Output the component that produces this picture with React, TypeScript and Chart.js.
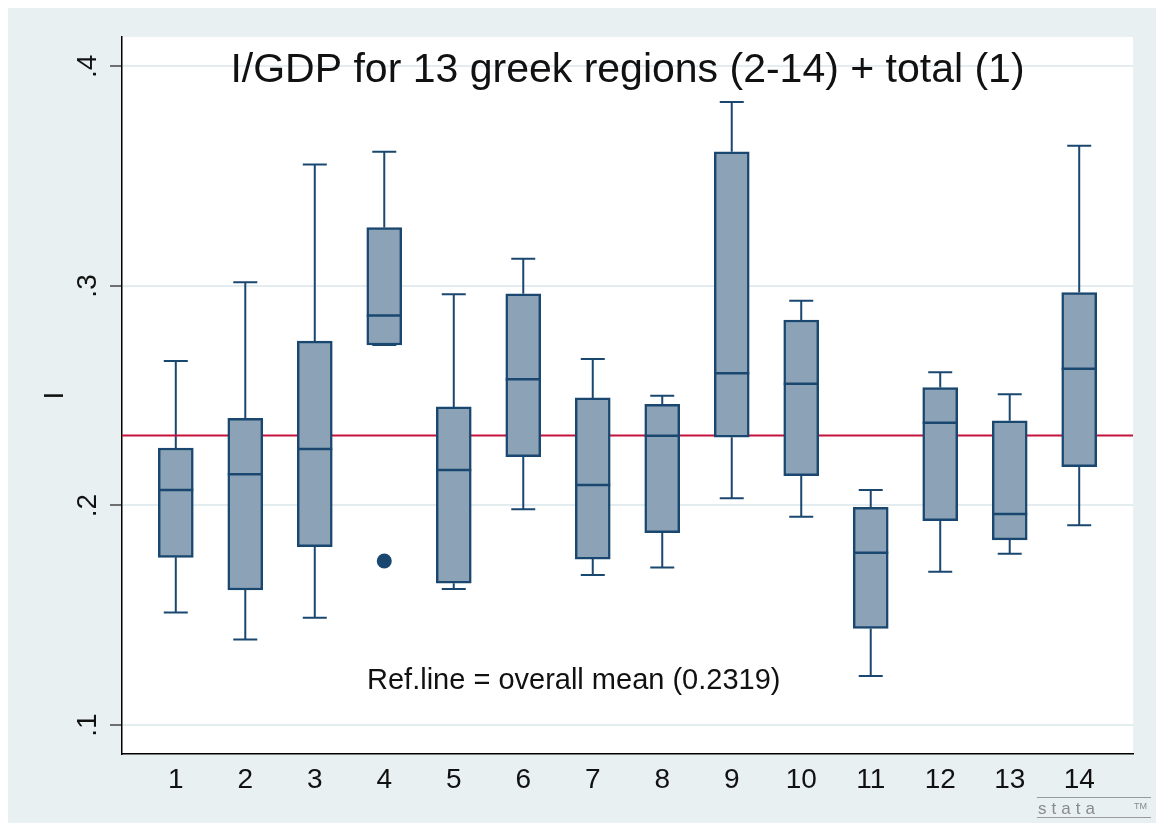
import React, { useEffect, useRef } from "react";
import { Chart, registerables } from "chart.js";

Chart.register(...registerables);

// ---- data ----
const regions = [1, 2, 3, 4, 5, 6, 7, 8, 9, 10, 11, 12, 13, 14];
const lowerWhisker = [0.1513, 0.139, 0.1489, 0.2731, 0.162, 0.1983, 0.1683, 0.1717, 0.2033, 0.1949, 0.1223, 0.1698, 0.178, 0.191];
const q1 = [0.1764, 0.1615, 0.1812, 0.2731, 0.1646, 0.2222, 0.1756, 0.1876, 0.2311, 0.2136, 0.144, 0.1931, 0.1843, 0.2177];
const median = [0.2071, 0.2142, 0.2257, 0.2865, 0.2162, 0.2575, 0.2093, 0.2318, 0.2602, 0.2555, 0.1785, 0.2377, 0.1961, 0.2623];
const q3 = [0.2262, 0.2397, 0.2749, 0.3266, 0.2449, 0.2964, 0.249, 0.2461, 0.3611, 0.2845, 0.1992, 0.2537, 0.2386, 0.297];
const upperWhisker = [0.2658, 0.3017, 0.3553, 0.3611, 0.2962, 0.3124, 0.2667, 0.25, 0.3838, 0.2933, 0.2071, 0.2607, 0.2507, 0.3639];
const outlierRegion = [4];
const outlierValue = [0.1747];
const overallMean = 0.2319;
const yTickValues = [0.1, 0.2, 0.3, 0.4];
const yTickLabels = [".1", ".2", ".3", ".4"];
const titleText = "I/GDP for 13 greek regions (2-14) + total (1)";
const noteText = "Ref.line = overall mean (0.2319)";
const yAxisTitle = "I";

const X_MIN = 0.226;
const X_MAX = 14.774;
const Y_MIN = 0.0868;
const Y_MAX = 0.4134;

const FONT = "'Liberation Sans', Arial, Helvetica, sans-serif";
const NAVY = "#1a476f";
const BOX_FILL = "#8ca3b7";
const REF_RED = "#c4123c";
const BG = "#e8f0f2";

const boxPlugin = {
  id: "boxDecor",
  beforeDraw(chart: any) {
    const { ctx, chartArea } = chart;
    ctx.save();
    ctx.fillStyle = BG;
    ctx.fillRect(0, 0, chart.width, chart.height);
    ctx.fillStyle = "#ffffff";
    ctx.fillRect(chartArea.left, chartArea.top, chartArea.right - chartArea.left, chartArea.bottom - chartArea.top);
    ctx.restore();
  },
  beforeDatasetsDraw(chart: any) {
    const { ctx } = chart;
    const xs = chart.scales.x;
    const ys = chart.scales.y;
    ctx.save();
    ctx.strokeStyle = NAVY;
    ctx.lineWidth = 2;
    const capHalf = 12;
    regions.forEach((r, i) => {
      const px = xs.getPixelForValue(r);
      const yU = ys.getPixelForValue(upperWhisker[i]);
      const yQ3 = ys.getPixelForValue(q3[i]);
      const yQ1 = ys.getPixelForValue(q1[i]);
      const yL = ys.getPixelForValue(lowerWhisker[i]);
      ctx.beginPath();
      ctx.moveTo(px, yQ3);
      ctx.lineTo(px, yU);
      ctx.moveTo(px - capHalf, yU);
      ctx.lineTo(px + capHalf, yU);
      ctx.moveTo(px, yQ1);
      ctx.lineTo(px, yL);
      ctx.moveTo(px - capHalf, yL);
      ctx.lineTo(px + capHalf, yL);
      ctx.stroke();
    });
    ctx.restore();
  },
  afterDatasetsDraw(chart: any) {
    const { ctx } = chart;
    const xs = chart.scales.x;
    const ys = chart.scales.y;
    ctx.save();
    ctx.strokeStyle = NAVY;
    ctx.lineWidth = 2.5;
    const half = 17.5;
    regions.forEach((r, i) => {
      const px = xs.getPixelForValue(r);
      const py = ys.getPixelForValue(median[i]);
      ctx.beginPath();
      ctx.moveTo(px - half, py);
      ctx.lineTo(px + half, py);
      ctx.stroke();
    });
    ctx.restore();
  },
  afterDraw(chart: any) {
    const { ctx, chartArea } = chart;
    const ys = chart.scales.y;
    ctx.save();
    ctx.fillStyle = "#111111";
    // y tick labels (rotated)
    ctx.font = `28px ${FONT}`;
    ctx.textAlign = "center";
    ctx.textBaseline = "middle";
    yTickValues.forEach((v, i) => {
      const py = ys.getPixelForValue(v);
      ctx.save();
      ctx.translate(chartArea.left - 34, py);
      ctx.rotate(-Math.PI / 2);
      ctx.fillText(yTickLabels[i], 0, 0);
      ctx.restore();
    });
    // y axis title
    ctx.save();
    ctx.translate(chartArea.left - 67, (chartArea.top + chartArea.bottom) / 2);
    ctx.rotate(-Math.PI / 2);
    ctx.fillText(yAxisTitle, 0, 0);
    ctx.restore();
    // title inside plot
    ctx.font = `41px ${FONT}`;
    ctx.textAlign = "center";
    ctx.textBaseline = "alphabetic";
    ctx.fillText(titleText, (chartArea.left + chartArea.right) / 2, chartArea.top + 45);
    // note
    ctx.font = `29px ${FONT}`;
    ctx.textAlign = "left";
    ctx.fillText(noteText, chartArea.left + 245, chartArea.top + 652);
    // stata logo
    const lx0 = chart.width - 119;
    const lx1 = chart.width - 5;
    ctx.strokeStyle = "#9a9a9a";
    ctx.lineWidth = 1;
    ctx.beginPath();
    ctx.moveTo(lx0, chart.height - 25.5);
    ctx.lineTo(lx1, chart.height - 25.5);
    ctx.moveTo(lx0, chart.height - 5.5);
    ctx.lineTo(lx1, chart.height - 5.5);
    ctx.stroke();
    ctx.fillStyle = "#8a8a8a";
    ctx.font = `17px ${FONT}`;
    ctx.textAlign = "left";
    ctx.textBaseline = "alphabetic";
    (ctx as any).letterSpacing = "5px";
    ctx.fillText("stata", lx0 + 1, chart.height - 9);
    (ctx as any).letterSpacing = "0px";
    ctx.font = `9px ${FONT}`;
    ctx.fillText("TM", lx1 - 17, chart.height - 14);
    ctx.restore();
  },
};

export default function App() {
  const canvasRef = useRef<HTMLCanvasElement | null>(null);

  useEffect(() => {
    if (!canvasRef.current) return;
    const chart = new Chart(canvasRef.current, {
      type: "bar",
      data: {
        datasets: [
          {
            type: "bar",
            label: "box",
            data: regions.map((r, i) => ({ x: r, y: [q1[i], q3[i]] })) as any,
            backgroundColor: BOX_FILL,
            borderColor: NAVY,
            borderWidth: 2.5,
            borderSkipped: false,
            barThickness: 35,
            order: 2,
          } as any,
          {
            type: "scatter",
            label: "outliers",
            data: outlierRegion.map((r, i) => ({ x: r, y: outlierValue[i] })),
            backgroundColor: NAVY,
            borderColor: NAVY,
            pointRadius: 7.5,
            pointBorderWidth: 0,
            order: 1,
          } as any,
          {
            type: "line",
            label: "mean",
            data: [
              { x: X_MIN, y: overallMean },
              { x: X_MAX, y: overallMean },
            ],
            borderColor: REF_RED,
            borderWidth: 2,
            pointRadius: 0,
            fill: false,
            order: 3,
          } as any,
        ],
      },
      options: {
        animation: false,
        responsive: false,
        maintainAspectRatio: false,
        layout: { padding: { top: 29, right: 23, bottom: 0, left: 0 } },
        plugins: {
          legend: { display: false },
          tooltip: { enabled: false },
          title: { display: false },
        },
        scales: {
          x: {
            type: "linear",
            min: X_MIN,
            max: X_MAX,
            offset: false,
            grid: { display: false, drawTicks: false, offset: false },
            border: { display: true, color: "#000000", width: 1.5 },
            afterBuildTicks: (scale: any) => {
              scale.ticks = regions.map((v) => ({ value: v }));
            },
            afterFit: (scale: any) => {
              scale.height = 69;
            },
            ticks: {
              color: "#111111",
              font: { family: FONT, size: 28 },
              padding: 9,
              maxRotation: 0,
              autoSkip: false,
              callback: (v: any) => String(v),
            },
          },
          y: {
            type: "linear",
            min: Y_MIN,
            max: Y_MAX,
            grid: {
              color: "#e3edf0",
              lineWidth: 2,
              drawTicks: true,
              tickLength: 12,
              tickColor: "#444444",
              tickWidth: 1.5,
            },
            border: { display: true, color: "#000000", width: 1.5 },
            afterBuildTicks: (scale: any) => {
              scale.ticks = yTickValues.map((v) => ({ value: v }));
            },
            afterFit: (scale: any) => {
              scale.width = 114;
            },
            ticks: { display: false },
          },
        },
      },
      plugins: [boxPlugin],
    });
    return () => chart.destroy();
  }, []);

  return (
    <div style={{ position: "fixed", left: 8, top: 8, width: 1148, height: 815 }}>
      <canvas ref={canvasRef} width={1148} height={815} style={{ width: 1148, height: 815, display: "block" }} />
    </div>
  );
}
